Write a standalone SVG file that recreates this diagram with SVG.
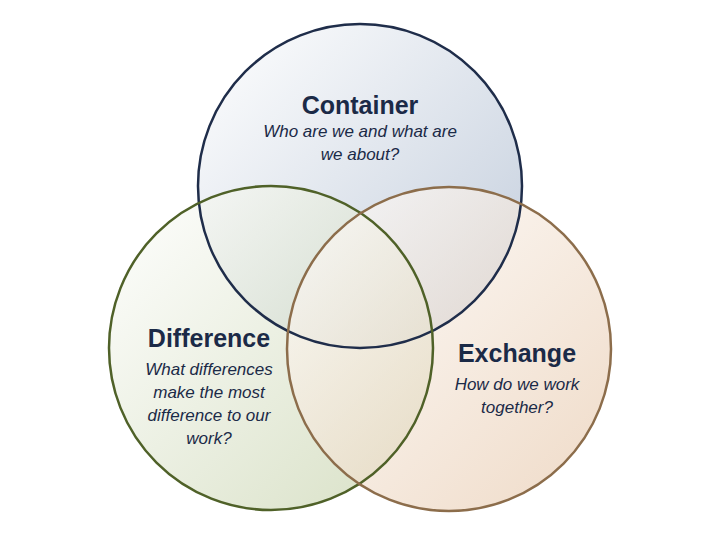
<svg xmlns="http://www.w3.org/2000/svg" width="720" height="540" viewBox="0 0 720 540">
<defs>
<linearGradient id="gt" x1="0" y1="0" x2="1" y2="1"><stop offset="0" stop-color="#ffffff"/><stop offset="1" stop-color="#9fb0c8"/></linearGradient>
<linearGradient id="gl" x1="0" y1="0" x2="1" y2="1"><stop offset="0" stop-color="#ffffff"/><stop offset="1" stop-color="#c2cfa5"/></linearGradient>
<linearGradient id="gr" x1="0" y1="0" x2="1" y2="1"><stop offset="0" stop-color="#ffffff"/><stop offset="1" stop-color="#e6c6a8"/></linearGradient>
<style>
.f{fill-opacity:0.65;stroke:none}
.o{fill:none;stroke-width:2.5}
.h{font-family:"Liberation Sans",Arial,sans-serif;font-weight:bold;font-size:25px;fill:#1b2a47;text-anchor:middle}
.s{font-family:"Liberation Sans",Arial,sans-serif;font-style:italic;font-size:17px;fill:#1b2a47;text-anchor:middle}
</style>
</defs>
<rect width="720" height="540" fill="#fff"/>
<g id="container"><circle class="f" cx="360" cy="186" r="162" fill="url(#gt)"/></g>
<g id="difference"><circle class="f" cx="271" cy="348" r="162" fill="url(#gl)"/></g>
<g id="exchange"><circle class="f" cx="449" cy="349" r="162" fill="url(#gr)"/></g>
<g id="outlines">
<circle class="o" cx="360" cy="186" r="162" stroke="#1f2d4a"/>
<circle class="o" cx="271" cy="348" r="162" stroke="#4f6128"/>
<circle class="o" cx="449" cy="349" r="162" stroke="#8c6d4b"/>
</g>
<g id="connectors"/>
<g id="labels">
<text class="h" x="360" y="114">Container</text>
<text class="s" x="360" y="137">Who are we and what are</text>
<text class="s" x="360" y="160">we about?</text>
<text class="h" x="209" y="347">Difference</text>
<text class="s" x="209" y="375">What differences</text>
<text class="s" x="209" y="398">make the most</text>
<text class="s" x="209" y="421">difference to our</text>
<text class="s" x="209" y="444">work?</text>
<text class="h" x="517" y="362">Exchange</text>
<text class="s" x="517" y="390">How do we work</text>
<text class="s" x="517" y="413">together?</text>
</g>
</svg>
